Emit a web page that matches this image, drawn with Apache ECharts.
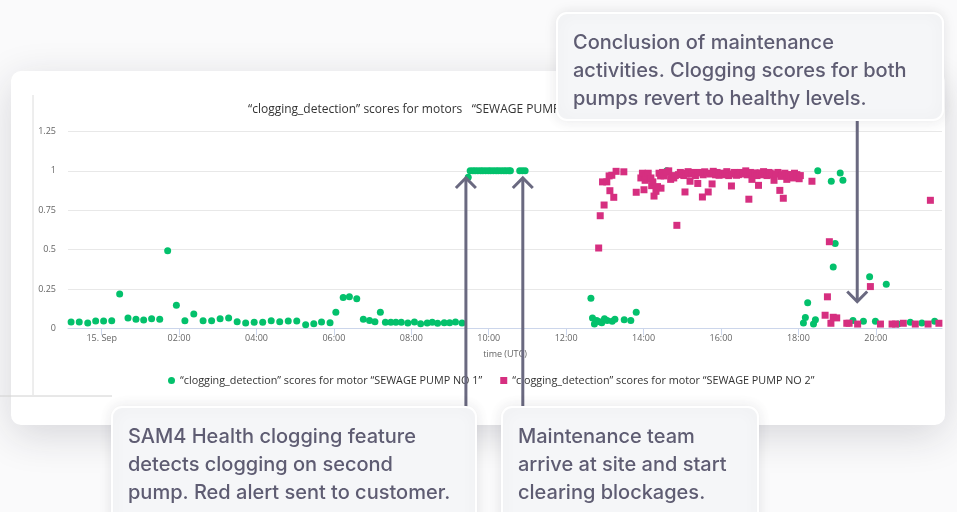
<!DOCTYPE html>
<html>
<head>
<meta charset="utf-8">
<script src="https://cdn.jsdelivr.net/npm/echarts@6/dist/echarts.min.js"></script>
<style>
  html, body { margin: 0; padding: 0; background: #fafafb; }
  #chart { width: 957px; height: 512px; }
</style>
</head>
<body>
<div id="chart"></div>
<script>
// hours after 00:00 UTC on 15 Sep, score
const pump1 = [
  [-0.79, 0.040], [-0.58, 0.040], [-0.36, 0.034], [-0.155, 0.046], [0.05, 0.046], [0.26, 0.048],
  [0.465, 0.218], [0.68, 0.066], [0.886, 0.057], [1.085, 0.053], [1.29, 0.061], [1.5, 0.057],
  [1.705, 0.492], [1.93, 0.146], [2.15, 0.048], [2.38, 0.091], [2.62, 0.048], [2.84, 0.048],
  [3.06, 0.061], [3.28, 0.066], [3.5, 0.042], [3.72, 0.034], [3.94, 0.038], [4.16, 0.038],
  [4.38, 0.048], [4.6, 0.042], [4.82, 0.046], [5.04, 0.046], [5.27, 0.023], [5.48, 0.029],
  [5.68, 0.040], [5.9, 0.036], [6.05, 0.102], [6.24, 0.195], [6.40, 0.200], [6.59, 0.187],
  [6.76, 0.057], [6.92, 0.049], [7.06, 0.042], [7.2, 0.102], [7.33, 0.038], [7.47, 0.038],
  [7.6, 0.038], [7.74, 0.038], [7.91, 0.034], [8.08, 0.040], [8.24, 0.029], [8.41, 0.034],
  [8.54, 0.038], [8.68, 0.032], [8.85, 0.036], [8.99, 0.036], [9.14, 0.040], [9.31, 0.034],
  [9.47, 0.96],
  [9.52, 1], [9.59, 1], [9.65, 1], [9.72, 1], [9.79, 1], [9.85, 1], [9.92, 1], [9.99, 1],
  [10.05, 1], [10.12, 1], [10.19, 1], [10.25, 1], [10.32, 1], [10.39, 1], [10.45, 1], [10.52, 1],
  [10.56, 1], [10.80, 1], [10.87, 1], [10.94, 1],
  [12.64, 0.191], [12.68, 0.066], [12.73, 0.027], [12.79, 0.049], [12.86, 0.042], [12.92, 0.036],
  [12.99, 0.061], [13.06, 0.049], [13.19, 0.045], [13.26, 0.057], [13.5, 0.055], [13.67, 0.049],
  [13.81, 0.102], [14.6, 1.0],
  [18.13, 0.034], [18.18, 0.068], [18.24, 0.163], [18.39, 0.027], [18.44, 0.055], [18.5, 1.0],
  [18.85, 0.934], [18.9, 0.389], [18.95, 0.539], [19.08, 0.987], [19.15, 0.94], [19.41, 0.049],
  [19.68, 0.045], [19.84, 0.327], [19.99, 0.045], [20.27, 0.28], [20.57, 0.027], [20.89, 0.038],
  [21.19, 0.034], [21.52, 0.045]
]

const pump2 = [
  [12.84, 0.51], [12.88, 0.715], [12.94, 0.93], [12.98, 0.783], [13.05, 0.93], [13.11, 0.968],
  [13.13, 0.874], [13.18, 0.972], [13.23, 0.832], [13.29, 0.997], [13.49, 0.994], [13.81, 0.864],
  [13.93, 0.955], [13.97, 0.985], [14.01, 0.88], [14.04, 0.94], [14.07, 0.968], [14.12, 0.985],
  [14.16, 0.95], [14.19, 0.955], [14.21, 0.906], [14.24, 0.93], [14.27, 0.84], [14.32, 0.87],
  [14.36, 0.90], [14.40, 0.985], [14.44, 0.968], [14.45, 0.89], [14.49, 0.99], [14.53, 0.968],
  [14.58, 0.99], [14.65, 1.0], [14.70, 0.946], [14.74, 0.96], [14.78, 0.955], [14.82, 0.97],
  [14.86, 0.654], [14.90, 0.976], [14.95, 0.99], [15.00, 0.985], [15.04, 0.97], [15.07, 0.866],
  [15.10, 0.98], [15.15, 0.995], [15.20, 0.934], [15.24, 0.98], [15.29, 0.99], [15.34, 0.97],
  [15.40, 0.92], [15.41, 0.987], [15.46, 0.99], [15.52, 0.834], [15.54, 0.975], [15.58, 0.994],
  [15.63, 0.985], [15.67, 0.866], [15.72, 0.98], [15.77, 0.917], [15.80, 0.997], [15.86, 0.975],
  [15.90, 0.99], [15.95, 0.972], [16.00, 0.985], [16.05, 0.975], [16.10, 0.984], [16.15, 0.995],
  [16.20, 0.97], [16.27, 0.904], [16.29, 0.98], [16.34, 0.99], [16.40, 0.972], [16.45, 0.976],
  [16.50, 0.99], [16.57, 0.98], [16.64, 1.0], [16.68, 0.975], [16.72, 0.82], [16.76, 0.99],
  [16.80, 0.946], [16.84, 0.975], [16.88, 0.987], [16.93, 0.97], [16.97, 0.908], [17.01, 0.987],
  [17.06, 0.975], [17.10, 0.995], [17.14, 0.987], [17.19, 0.97], [17.23, 0.99], [17.27, 0.987],
  [17.32, 0.975], [17.37, 0.94], [17.42, 0.98], [17.47, 0.99], [17.52, 0.876], [17.55, 0.965],
  [17.58, 0.976], [17.61, 0.826], [17.65, 0.985], [17.70, 0.946], [17.73, 0.975], [17.76, 0.976],
  [17.80, 0.96], [17.85, 0.955], [17.90, 0.985], [17.96, 0.976], [18.02, 0.95], [18.05, 0.97],
  [18.35, 0.934], [18.69, 0.083], [18.75, 0.2], [18.80, 0.55], [18.84, 0.032], [18.90, 0.07],
  [18.99, 0.066], [19.25, 0.032], [19.31, 0.032], [19.53, 0.027], [19.86, 0.265], [20.12, 0.027],
  [20.42, 0.027], [20.51, 0.027], [20.71, 0.032], [21.02, 0.027], [21.35, 0.027], [21.41, 0.813],
  [21.63, 0.032]
]

const xTicks = [0, 2, 4, 6, 8, 10, 12, 14, 16, 18, 20]
const yTicks = ['0', '0.25', '0.5', '0.75', '1', '1.25']

// where the callout arrows point (hours, score)
const alertTip = [9.41, 0.955]
const crewTip = [10.88, 0.955]
const doneTip = [19.52, 0.17]

const name1 = '\u201cclogging_detection\u201d scores for motor \u201cSEWAGE PUMP NO 1\u201d'
const name2 = '\u201cclogging_detection\u201d scores for motor \u201cSEWAGE PUMP NO 2\u201d'

const chart = echarts.init(document.getElementById('chart'))
const FONT = "'Open Sans', sans-serif"
const NOTE_FONT = "500 20px Inter, 'Noto Sans', sans-serif"
const NOTE_COLOR = '#5e5c72'
const ARROW = '#6a6980'

chart.setOption({
  animation: false,
  textStyle: { fontFamily: FONT },
  title: {
    text: '\u201cclogging_detection\u201d scores for motors   \u201cSEWAGE PUMP NO 1\u201d, \u201cSEWAGE PUMP NO 2\u201d',
    left: 243,
    top: 99,
    textStyle: { fontSize: 12, fontWeight: 'normal', color: '#333', fontFamily: FONT }
  },
  legend: {
    left: 163,
    top: 370,
    itemWidth: 7,
    itemHeight: 7,
    itemGap: 18,
    textStyle: { fontSize: 10.8, color: '#333', fontFamily: FONT },
    data: [
      { name: name1, icon: 'circle' },
      { name: name2, icon: 'rect' }
    ]
  },
  grid: { left: 68, right: 15, top: 131.5, bottom: 183.7 },
  xAxis: {
    type: 'value',
    min: -0.87,
    max: 21.71,
    name: 'time (UTC)',
    nameLocation: 'middle',
    nameGap: 22,
    nameTextStyle: { fontSize: 9, color: '#666' },
    axisLine: { lineStyle: { color: '#ccd6eb' } },
    axisTick: { length: 7, customValues: xTicks, lineStyle: { color: '#ccd6eb' } },
    splitLine: { show: false },
    axisLabel: {
      customValues: xTicks,
      fontSize: 9,
      color: '#666',
      margin: 6,
      formatter: function (v) {
        if (v === 0) return '15. Sep'
        return (v < 10 ? '0' : '') + v + ':00'
      }
    }
  },
  yAxis: {
    type: 'value',
    min: 0,
    max: 1.25,
    interval: 0.25,
    axisLine: { show: false },
    axisTick: { show: false },
    splitLine: { lineStyle: { color: '#e8e8e8' } },
    axisLabel: {
      fontSize: 9,
      color: '#666',
      margin: 12,
      formatter: function (v) { return yTicks[Math.round(v / 0.25)] }
    }
  },
  series: [
    {
      name: name1,
      type: 'scatter',
      symbol: 'circle',
      symbolSize: 7,
      itemStyle: { color: '#03c16c', opacity: 1 },
      data: pump1
    },
    {
      name: name2,
      type: 'scatter',
      symbol: 'rect',
      symbolSize: 7,
      itemStyle: { color: '#d62f80', opacity: 1 },
      data: pump2
    }
  ]
})

// annotations, arrows anchored on the data scale
const toPx = function (p) { return chart.convertToPixel({ gridIndex: 0 }, p) }
const a1 = toPx(alertTip)
const a2 = toPx(crewTip)
const a3 = toPx(doneTip)

const upArrow = function (p, bottom) {
  return [
    { type: 'line', z: 90, shape: { x1: p[0], y1: p[1], x2: p[0], y2: bottom },
      style: { stroke: ARROW, lineWidth: 3 } },
    { type: 'polyline', z: 90, shape: { points: [[p[0] - 10, p[1] + 10], [p[0], p[1]], [p[0] + 10, p[1] + 10]] },
      style: { stroke: ARROW, lineWidth: 3, fill: null } }
  ]
}
const downArrow = function (p, top) {
  return [
    { type: 'line', z: 90, shape: { x1: p[0], y1: top, x2: p[0], y2: p[1] },
      style: { stroke: ARROW, lineWidth: 3 } },
    { type: 'polyline', z: 90, shape: { points: [[p[0] - 10, p[1] - 10], [p[0], p[1]], [p[0] + 10, p[1] - 10]] },
      style: { stroke: ARROW, lineWidth: 3, fill: null } }
  ]
}
const note = function (x, y, w, h, lines) {
  return [
    { type: 'rect', z: 95, shape: { x: x, y: y, width: w, height: h, r: 10 },
      style: { fill: '#f5f6f8', stroke: '#ffffff', lineWidth: 2,
        shadowBlur: 14, shadowColor: 'rgba(40,40,60,0.10)' } },
    { type: 'text', z: 96, style: { x: x + 16, y: y + 16, text: lines.join('\n'),
        font: NOTE_FONT, fill: NOTE_COLOR, lineHeight: 28, verticalAlign: 'top' } }
  ]
}

chart.setOption({
  graphic: [
    // card behind the chart
    { type: 'rect', z: -10, silent: true, shape: { x: 11, y: 71, width: 934, height: 354, r: 10 },
      style: { fill: '#ffffff', shadowBlur: 40, shadowOffsetY: 10, shadowColor: 'rgba(30,30,50,0.16)' } },
    { type: 'line', z: -5, shape: { x1: 33, y1: 95, x2: 33, y2: 395 }, style: { stroke: '#dcdcdc', lineWidth: 1 } },
    { type: 'line', z: -5, shape: { x1: 0, y1: 396, x2: 112, y2: 396 }, style: { stroke: '#d0d0d0', lineWidth: 1 } }
  ]
    .concat(upArrow(a1, 408))
    .concat(upArrow(a2, 408))
    .concat(downArrow(a3, 119))
    .concat(note(557, 13, 386, 107, ['Conclusion of maintenance', 'activities. Clogging scores for both', 'pumps revert to healthy levels.']))
    .concat(note(112, 407, 364, 130, ['SAM4 Health clogging feature', 'detects clogging on second', 'pump. Red alert sent to customer.']))
    .concat(note(502, 407, 256, 130, ['Maintenance team', 'arrive at site and start', 'clearing blockages.']))
})
</script>
</body>
</html>
